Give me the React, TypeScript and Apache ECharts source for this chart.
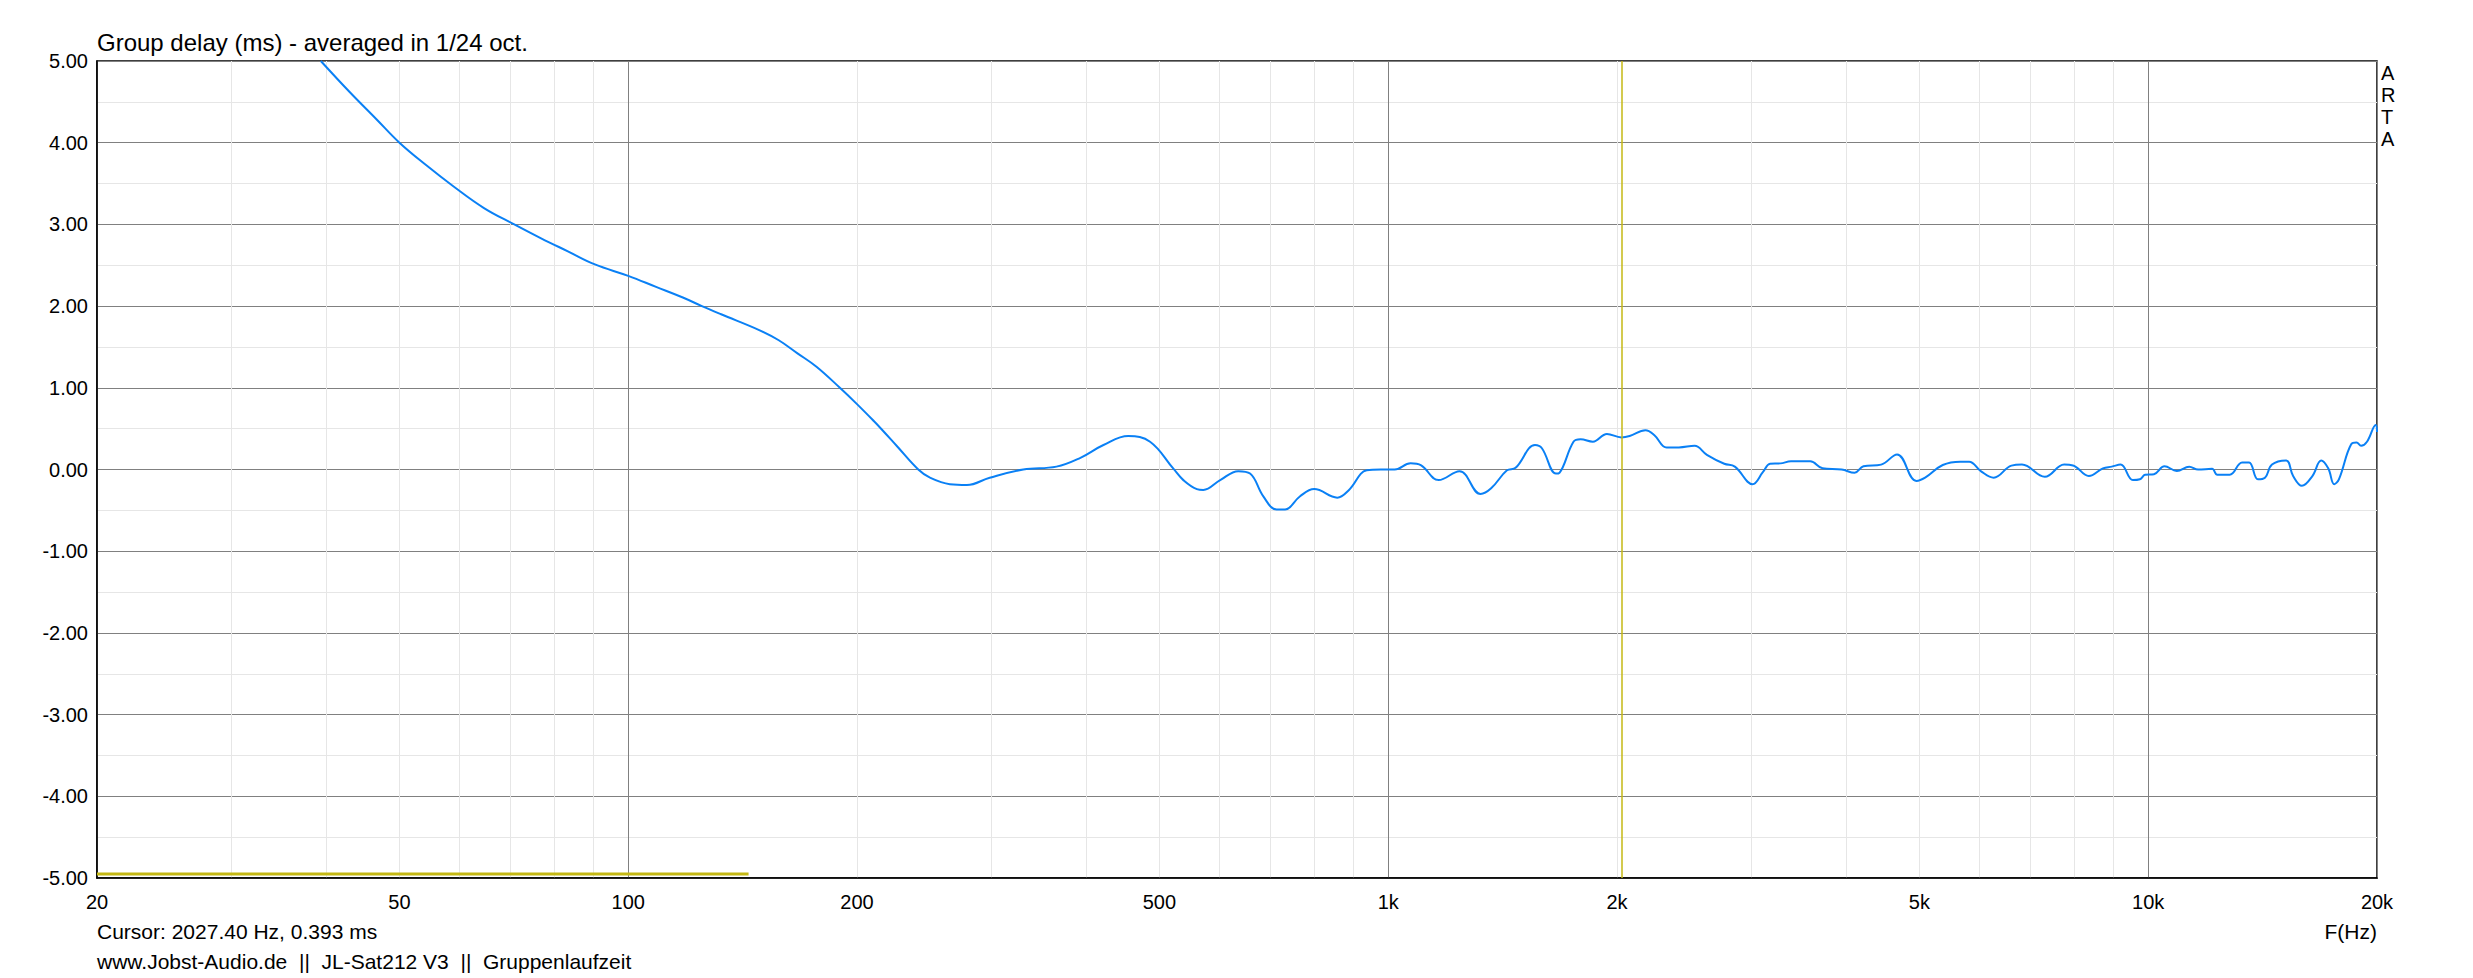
import { useEffect, useRef } from 'react';
import * as echarts from 'echarts';

const freqHz = [
  39.4, 43.0, 46.6, 50.0, 54.3, 58.8, 64.6, 70.8, 76.8, 83.3, 90.4, 100, 108.8, 118, 125, 132.5,
  148.7, 157.6, 167, 176.9, 189.9, 200, 210.6, 215.6, 225.8, 240.8, 249.5, 265, 279, 299, 331,
  366, 393, 422, 455, 486, 521.6, 537.6, 560, 571, 601, 635, 658, 685, 713, 731.6, 765, 799, 857,
  888, 937, 978, 1020, 1070, 1105, 1165, 1241, 1323, 1366, 1433, 1471, 1560, 1593, 1662, 1680,
  1753, 1791, 1859, 1940, 2027, 2078, 2180, 2240, 2324, 2412, 2530, 2626, 2768, 2858, 3016, 3113,
  3180, 3282, 3388, 3592, 3728, 3950, 4108, 4220, 4452, 4672, 4954, 5087, 5366, 5660, 5812, 6033,
  6262, 6607, 6822, 7311, 7752, 7962, 8354, 8718, 8954, 9196, 9546, 9750, 9906, 10176, 10506,
  10906, 11322, 11630, 12134, 12330, 12800, 13290, 13574, 13942, 14244, 14550, 15186, 15512,
  15932, 16444, 16890, 17252, 17570, 17820, 18496, 18796, 19058, 19402, 19926, 20000
];
const delayMs = [
  5.0, 4.62, 4.29, 4.0, 3.72, 3.47, 3.2, 3.0, 2.83, 2.67, 2.51, 2.37, 2.235, 2.105, 2.0, 1.9,
  1.707, 1.585, 1.422, 1.258, 1.0, 0.8, 0.59, 0.49, 0.285, 0.0, -0.1, -0.18, -0.19, -0.1, 0.0,
  0.035, 0.14, 0.3, 0.41, 0.34, 0.01, -0.13, -0.24, -0.25, -0.13, -0.02, -0.05, -0.33, -0.49, -0.49, -0.33, -0.24, -0.345,
  -0.25, -0.01, 0.0, 0.0, 0.076, 0.05, -0.13, -0.02, -0.3, -0.23, -0.01, 0.02, 0.3, 0.26, -0.05, -0.04,
  0.34, 0.37, 0.34, 0.435, 0.393, 0.41, 0.48, 0.42, 0.27, 0.27, 0.29, 0.18, 0.07, 0.035, -0.18, -0.03,
  0.07, 0.075, 0.1, 0.1, 0.015, 0.0, -0.04, 0.04, 0.06, 0.185, -0.14, -0.1, 0.055, 0.096, 0.096, -0.026,
  -0.1, 0.047, 0.06, -0.09, 0.06, 0.05, -0.08, 0.014, 0.035, 0.06, -0.13, -0.12, -0.065, -0.057, 0.04,
  -0.017, 0.035, 0.0, 0.008, -0.065, -0.065, 0.085, 0.085, -0.12, -0.1, 0.06, 0.11, -0.08,
  -0.2, -0.08, 0.11, 0.014, -0.18, -0.12, 0.31, 0.33, 0.29, 0.34, 0.545, 0.46
];

// yellow marker segment at the bottom
const markerHz = [20, 144];
const markerMs = [-4.95, -4.95];

const cursorHz = 2027.4;
const cursorMs = 0.393;

const xLabelHz = [20, 50, 100, 200, 500, 1000, 2000, 5000, 10000, 20000];
const minorGridHz = [
  30, 40, 50, 60, 70, 80, 90,
  200, 300, 400, 500, 600, 700, 800, 900,
  2000, 3000, 4000, 5000, 6000, 7000, 8000, 9000
];

const FONT = 'Liberation Sans, Arial, sans-serif';
const BLUE = '#0a80f5';
const YELLOW = '#c4b814';

const fmtHz = (f: number) => (f >= 1000 ? f / 1000 + 'k' : String(f));

const App = () => {
  const chartRef = useRef<HTMLDivElement>(null);

  useEffect(() => {
    if (!chartRef.current) return;
    const chart = echarts.init(chartRef.current, null, { renderer: 'svg' });

    const option: any = {
      animation: false,
      backgroundColor: '#fff',
      textStyle: { fontFamily: FONT },
      title: {
        text: 'Group delay (ms) - averaged in 1/24 oct.',
        left: 97,
        top: 30,
        padding: 0,
        textStyle: { fontSize: 24, fontWeight: 'normal', color: '#000', fontFamily: FONT }
      },
      grid: {
        left: 97,
        right: 96,
        top: 61,
        bottom: 100,
        show: true,
        borderColor: '#000',
        borderWidth: 1.5
      },
      xAxis: [
        {
          type: 'log',
          logBase: 10,
          min: 20,
          max: 20000,
          axisLine: { show: true, onZero: false, lineStyle: { color: '#000', width: 1.5 } },
          axisTick: { show: false },
          axisLabel: { show: false },
          splitLine: { show: true, lineStyle: { color: '#808080', width: 1 } }
        },
        {
          // log10 domain, only used for the light grid lines and the labels
          type: 'value',
          position: 'bottom',
          min: Math.log10(20),
          max: Math.log10(20000),
          axisLine: { show: false, onZero: false },
          axisTick: { show: false, customValues: minorGridHz.map(f => Math.log10(f)) },
          splitLine: { show: true, lineStyle: { color: '#e6e6e6', width: 1 } },
          axisLabel: {
            customValues: xLabelHz.map(f => Math.log10(f)),
            formatter: (v: number) => fmtHz(Math.round(Math.pow(10, v))),
            color: '#000',
            fontSize: 20,
            margin: 14,
            fontFamily: FONT
          }
        }
      ],
      yAxis: {
        type: 'value',
        min: -5,
        max: 5,
        interval: 1,
        axisLine: { show: true, onZero: false, lineStyle: { color: '#000', width: 1.5 } },
        axisTick: { show: false },
        minorTick: { show: false, splitNumber: 2 },
        minorSplitLine: { show: true, lineStyle: { color: '#e6e6e6', width: 1 } },
        splitLine: { show: true, lineStyle: { color: '#808080', width: 1 } },
        axisLabel: {
          formatter: (v: number) => v.toFixed(2),
          color: '#000',
          fontSize: 20,
          margin: 9,
          fontFamily: FONT
        }
      },
      series: [
        {
          type: 'line',
          xAxisIndex: 0,
          data: markerHz.map((f, i) => [f, markerMs[i]]),
          symbol: 'none',
          lineStyle: { color: YELLOW, width: 3 },
          silent: true,
          z: 3
        },
        {
          type: 'line',
          xAxisIndex: 0,
          data: freqHz.map((f, i) => [f, delayMs[i]]),
          symbol: 'none',
          smooth: 0.4,
          lineStyle: { color: BLUE, width: 2 },
          silent: true,
          z: 4,
          markLine: {
            silent: true,
            symbol: ['none', 'none'],
            label: { show: false },
            lineStyle: { color: YELLOW, type: 'solid', width: 1.5 },
            data: [{ xAxis: cursorHz }]
          }
        }
      ],
      graphic: [
        {
          type: 'text',
          left: 97,
          top: 921,
          style: {
            text: `Cursor: ${cursorHz.toFixed(2)} Hz, ${cursorMs.toFixed(3)} ms`,
            fontSize: 21,
            fill: '#000',
            fontFamily: FONT
          }
        },
        {
          type: 'text',
          left: 97,
          top: 951,
          style: {
            text: 'www.Jobst-Audio.de  ||  JL-Sat212 V3  ||  Gruppenlaufzeit',
            fontSize: 21,
            fill: '#000',
            fontFamily: FONT
          }
        },
        {
          type: 'text',
          right: 96,
          top: 921,
          style: { text: 'F(Hz)', fontSize: 21, fill: '#000', fontFamily: FONT }
        },
        {
          type: 'text',
          left: 2381,
          top: 62,
          style: {
            text: 'A\nR\nT\nA',
            fontSize: 20,
            lineHeight: 22,
            fill: '#000',
            fontFamily: FONT
          }
        }
      ]
    };

    chart.setOption(option);

    return () => {
      chart.dispose();
    };
  }, []);

  return (
    <div
      ref={chartRef}
      style={{ position: 'absolute', left: 0, top: 0, width: 2473, height: 978 }}
    />
  );
};

export default App;
